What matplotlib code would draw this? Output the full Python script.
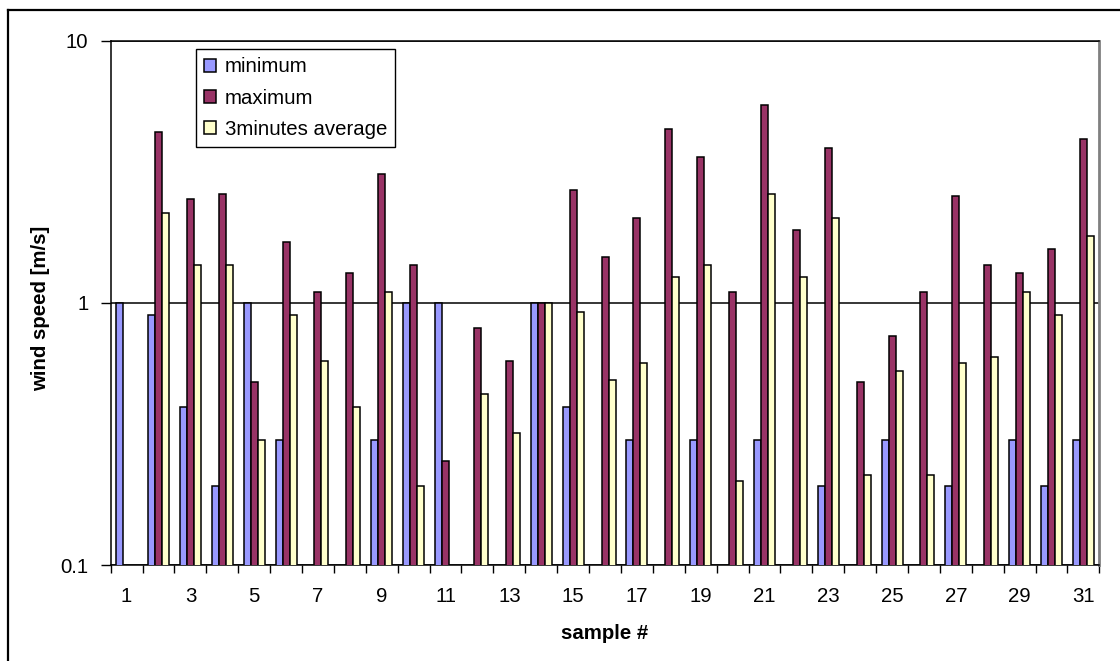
import numpy as np
import matplotlib
matplotlib.use("Agg")
import matplotlib.pyplot as plt
from matplotlib.lines import Line2D
from matplotlib.ticker import FixedLocator, NullFormatter, FixedFormatter, NullLocator

plt.rcParams["font.family"] = ["Liberation Sans", "DejaVu Sans"]

# wind speed per sample, m/s (nan = no reading)
nan = np.nan
samples = np.arange(1, 32)
minimum = [1.0, 0.9, 0.4, 0.2, 1.0, 0.3, nan, nan, 0.3, 1.0,
           1.0, nan, nan, 1.0, 0.4, nan, 0.3, nan, 0.3, nan,
           0.3, nan, 0.2, nan, 0.3, nan, 0.2, nan, 0.3, 0.2, 0.3]
maximum = [nan, 4.5, 2.5, 2.6, 0.5, 1.7, 1.1, 1.3, 3.1, 1.4,
           0.25, 0.8, 0.6, 1.0, 2.7, 1.5, 2.1, 4.6, 3.6, 1.1,
           5.7, 1.9, 3.9, 0.5, 0.75, 1.1, 2.55, 1.4, 1.3, 1.6, 4.2]
average = [nan, 2.2, 1.4, 1.4, 0.3, 0.9, 0.6, 0.4, 1.1, 0.2,
           nan, 0.45, 0.32, 1.0, 0.92, 0.51, 0.59, 1.25, 1.39, 0.21,
           2.6, 1.25, 2.1, 0.22, 0.55, 0.22, 0.59, 0.62, 1.1, 0.9, 1.8]

series = [
    ("minimum", minimum, "#9999FF"),
    ("maximum", maximum, "#993366"),
    ("3minutes average", average, "#FFFFCC"),
]

fig = plt.figure(figsize=(11.2, 6.61), dpi=100)
ax = fig.add_axes([0.0988, 0.1452, 0.9816 - 0.0988, 0.9384 - 0.1452])

w = 0.22
for k, (name, vals, col) in enumerate(series):
    vals = np.array(vals, dtype=float)
    ok = ~np.isnan(vals)
    ax.bar(samples[ok] + (k - 1) * w, vals[ok], width=w, bottom=0.0,
           color=col, edgecolor="black", linewidth=1.1, label=name, zorder=3)

ax.set_yscale("log")
ax.set_ylim(0.1, 10)
ax.set_xlim(0.5, 31.5)

# y axis: decades only
ax.yaxis.set_major_locator(FixedLocator([0.1, 1, 10]))
ax.yaxis.set_major_formatter(FixedFormatter(["0.1", "1", "10"]))
ax.yaxis.set_minor_locator(NullLocator())
ax.tick_params(axis="y", which="major", direction="out", length=7, width=1,
               pad=9, labelsize=14.7)
ax.grid(axis="y", which="major", color="black", linewidth=1.1, zorder=1)

# x axis: ticks between categories, labels on odd samples
ax.xaxis.set_major_locator(FixedLocator(np.arange(0.5, 32, 1)))
ax.xaxis.set_major_formatter(NullFormatter())
ax.xaxis.set_minor_locator(FixedLocator(samples[::2]))
ax.xaxis.set_minor_formatter(FixedFormatter([str(s) for s in samples[::2]]))
ax.tick_params(axis="x", which="major", direction="out", length=6, width=1)
ax.tick_params(axis="x", which="minor", length=0, pad=16, labelsize=14.7)

for side in ("left", "bottom", "top"):
    ax.spines[side].set_color("black")
    ax.spines[side].set_linewidth(1.1)
ax.spines["right"].set_color("#808080")
ax.spines["right"].set_linewidth(2)

ax.set_xlabel("sample #", fontsize=14.7, fontweight="bold", va="center")
ax.xaxis.set_label_coords(0.5, -0.13)
ax.set_ylabel("wind speed [m/s]", fontsize=14.7, fontweight="bold", va="center")
ax.yaxis.set_label_coords(-0.071, 0.49)

leg = ax.legend(loc="upper left", bbox_to_anchor=(0.0864, 0.984), borderaxespad=0,
                fontsize=14.7, fancybox=False, framealpha=1, edgecolor="black",
                handlelength=0.56, handleheight=0.6, handletextpad=0.45,
                labelspacing=0.6, borderpad=0.4)
leg.get_frame().set_linewidth(1)

# chart area border (top and left edges visible)
fig.add_artist(Line2D([8 / 1120, 8 / 1120], [-0.01, 1 - 10 / 661],
                      transform=fig.transFigure, color="black", linewidth=1.6))
fig.add_artist(Line2D([8 / 1120, 1.01], [1 - 10 / 661, 1 - 10 / 661],
                      transform=fig.transFigure, color="black", linewidth=1.6))

fig.savefig("out.png", dpi=100)
